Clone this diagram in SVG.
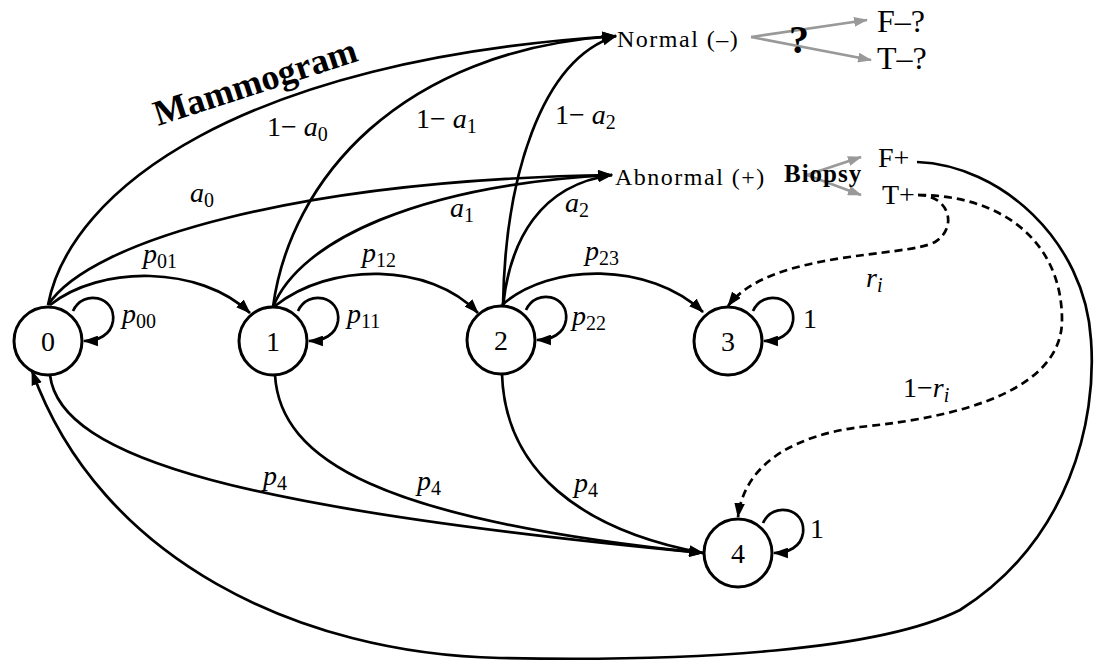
<svg xmlns="http://www.w3.org/2000/svg" width="1094" height="664" viewBox="0 0 1094 664">
<defs>
<marker id="ah" viewBox="0 0 14 10" refX="13" refY="5" markerWidth="15" markerHeight="11" markerUnits="userSpaceOnUse" orient="auto"><path d="M0,0 L14,5 L0,10 z" fill="#000"/></marker>
<marker id="ahg" viewBox="0 0 14 10" refX="13" refY="5" markerWidth="14" markerHeight="10" markerUnits="userSpaceOnUse" orient="auto"><path d="M0,0 L14,5 L0,10 z" fill="#999"/></marker>
</defs>
<style>
text{font-family:"Liberation Serif","Times New Roman",serif;fill:#000}
.node circle{fill:#fff;stroke:#000;stroke-width:3}
.node text{font-size:28px;text-anchor:middle}
.e{fill:none;stroke:#000;stroke-width:2.7}
.a{marker-end:url(#ah)}
.d{stroke-dasharray:8 5}
.g{fill:none;stroke:#999;stroke-width:2.6;marker-end:url(#ahg)}
.m{font-size:28px}
.i{font-style:italic}
.s{font-size:20px}
.lab{font-size:24px;letter-spacing:1.5px}
.big{font-size:32px}
</style>
<g id="connectors">
<path class="e a" d="M48,305 C70,190 240,60 616,36"/>
<path class="e a" d="M273,307 C290,180 400,50 616,36"/>
<path class="e a" d="M503,306 C505,180 540,60 616,36"/>
<path class="e a" d="M48,305 C90,240 300,180 612,175"/>
<path class="e a" d="M273,307 C300,240 420,185 612,175"/>
<path class="e a" d="M503,306 C510,240 540,185 612,175"/>
<path class="e a" d="M50,305 C100,265 200,265 250,313"/>
<path class="e a" d="M275,306 C330,262 430,262 478,313"/>
<path class="e a" d="M502,305 C550,262 650,262 703,312"/>
<path class="e a" d="M73,311 C83,289 116,296 113,321 C111,335 98,341 84,341"/>
<path class="e a" d="M298,311 C308,289 341,296 338,321 C336,335 323,341 309,341"/>
<path class="e a" d="M526,310 C536,288 569,295 566,320 C564,334 551,340 537,340"/>
<path class="e a" d="M753,311 C763,289 796,296 793,321 C791,335 778,341 764,341"/>
<path class="e a" d="M763,523 C773,501 806,508 803,533 C801,547 788,553 774,553"/>
<path class="e a" d="M50,375 C60,460 250,510 703,553"/>
<path class="e a" d="M275,375 C280,460 380,520 703,553"/>
<path class="e a" d="M502,374 C505,470 580,530 703,553"/>
<path class="e a" d="M917,162 C1000,165 1085,240 1091,340 C1097,420 1070,540 960,610 C880,650 700,662 500,658 C300,654 100,560 32,371"/>
<path class="e a d" d="M918,195 C950,195 958,228 935,242 C905,258 770,250 728,306"/>
<path class="e a d" d="M918,195 C1000,195 1062,240 1062,320 C1062,400 930,420 860,427 C800,435 745,460 738,517"/>
<path class="g" d="M751,37 L867,20"/>
<path class="g" d="M751,37 L871,60"/>
<path class="g" d="M807,175 L861,157"/>
<path class="g" d="M807,175 L861,195"/>
<text class="m" x="267" y="136">1− <tspan class="i">a</tspan><tspan class="s" dy="5">0</tspan></text>
<text class="m" x="416" y="128">1− <tspan class="i">a</tspan><tspan class="s" dy="5">1</tspan></text>
<text class="m" x="555" y="124">1− <tspan class="i">a</tspan><tspan class="s" dy="5">2</tspan></text>
<text class="m" x="190" y="202"><tspan class="i">a</tspan><tspan class="s" dy="5">0</tspan></text>
<text class="m" x="450" y="217"><tspan class="i">a</tspan><tspan class="s" dy="5">1</tspan></text>
<text class="m" x="565" y="212"><tspan class="i">a</tspan><tspan class="s" dy="5">2</tspan></text>
<text class="m" x="143" y="263"><tspan class="i">p</tspan><tspan class="s" dy="5">01</tspan></text>
<text class="m" x="362" y="262"><tspan class="i">p</tspan><tspan class="s" dy="5">12</tspan></text>
<text class="m" x="585" y="260"><tspan class="i">p</tspan><tspan class="s" dy="5">23</tspan></text>
<text class="m" x="122" y="323"><tspan class="i">p</tspan><tspan class="s" dy="5">00</tspan></text>
<text class="m" x="347" y="323"><tspan class="i">p</tspan><tspan class="s" dy="5">11</tspan></text>
<text class="m" x="572" y="325"><tspan class="i">p</tspan><tspan class="s" dy="5">22</tspan></text>
<text class="m" x="803" y="328">1</text>
<text class="m" x="810" y="538">1</text>
<text class="m" x="263" y="485"><tspan class="i">p</tspan><tspan class="s" dy="5">4</tspan></text>
<text class="m" x="417" y="490"><tspan class="i">p</tspan><tspan class="s" dy="5">4</tspan></text>
<text class="m" x="574" y="492"><tspan class="i">p</tspan><tspan class="s" dy="5">4</tspan></text>
<text class="m" x="866" y="287"><tspan class="i">r</tspan><tspan class="s i" dy="5">i</tspan></text>
<text class="m" x="903" y="397">1−<tspan class="i">r</tspan><tspan class="s i" dy="5">i</tspan></text>
</g>
<g id="mammogram"><text x="158" y="126" font-size="36" font-weight="bold" transform="rotate(-18 158 126)">Mammogram</text></g>
<g id="normal"><text class="lab" x="617" y="47">Normal (–)</text></g>
<g id="abnormal"><text class="lab" x="615" y="185">Abnormal (+)</text></g>
<g id="question"><text x="789" y="53" font-size="40" font-weight="bold">?</text></g>
<g id="biopsy"><text x="784" y="182" font-size="25" font-weight="bold" letter-spacing="1">Biopsy</text></g>
<g id="fminus"><text class="big" x="877" y="32">F–?</text></g>
<g id="tminus"><text class="big" x="877" y="69">T–?</text></g>
<g id="fplus"><text class="m" x="878" y="167">F+</text></g>
<g id="tplus"><text class="m" x="882" y="204">T+</text></g>
<g id="n0" class="node"><circle cx="48" cy="341" r="34"/><text x="48" y="351">0</text></g>
<g id="n1" class="node"><circle cx="273" cy="341" r="34"/><text x="273" y="351">1</text></g>
<g id="n2" class="node"><circle cx="501" cy="340" r="34"/><text x="501" y="350">2</text></g>
<g id="n3" class="node"><circle cx="728" cy="341" r="34"/><text x="728" y="351">3</text></g>
<g id="n4" class="node"><circle cx="738" cy="553" r="34"/><text x="738" y="563">4</text></g>
</svg>
